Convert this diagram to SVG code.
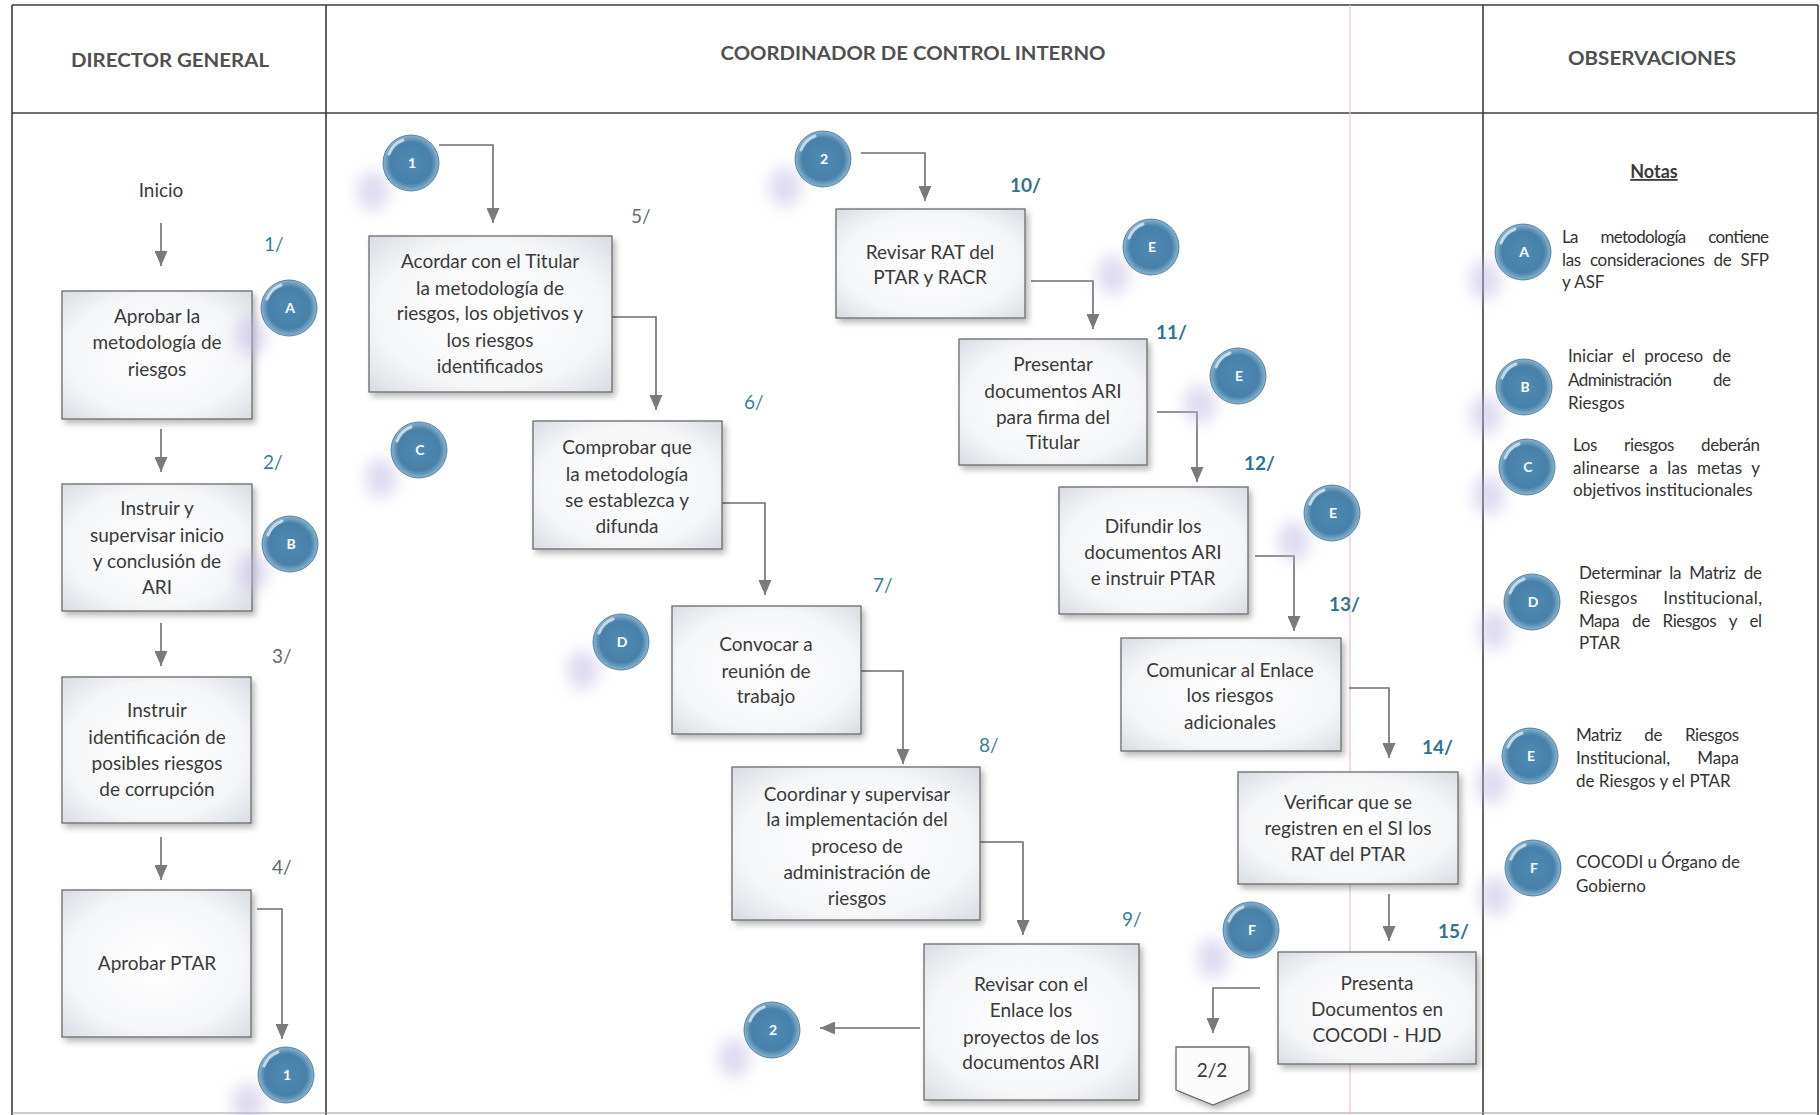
<svg xmlns="http://www.w3.org/2000/svg" xmlns:xlink="http://www.w3.org/1999/xlink" width="1820" height="1115" viewBox="0 0 1820 1115">
<style>
.hdr{font-family:Lato,"Liberation Sans",sans-serif;font-weight:bold;font-size:19.5px;fill:#505050;text-anchor:middle}
.bt{font-family:Lato,"Liberation Sans",sans-serif;font-size:19px;fill:#3a3a3a;text-anchor:middle}
.st{font-family:Lato,"Liberation Sans",sans-serif;font-size:19px;fill:#3b7d94}
.stb{font-family:Lato,"Liberation Sans",sans-serif;font-size:19px;font-weight:bold;fill:#2f7392}
.stg{font-family:Lato,"Liberation Sans",sans-serif;font-size:19px;fill:#5f6a6e}
.nt{font-family:Lato,"Liberation Sans",sans-serif;font-size:17px;fill:#333}
.ct{font-family:Lato,"Liberation Sans",sans-serif;font-size:14px;font-weight:bold;fill:#fff;text-anchor:middle}
.box{fill:url(#boxg);stroke:#6a6a6a;stroke-width:1.3;filter:url(#sh)}
.cn{fill:none;stroke:#6e6e6e;stroke-width:1.6;marker-end:url(#ah)}
.frame{stroke:#3c3c3c;stroke-width:1.6;fill:none}
</style>
<defs>
<radialGradient id="boxg" cx="50%" cy="50%" r="72%">
<stop offset="0%" stop-color="#ffffff"/>
<stop offset="65%" stop-color="#f5f6f8"/>
<stop offset="100%" stop-color="#d6dbe2"/>
</radialGradient>
<radialGradient id="ballg" cx="50%" cy="50%" r="52%">
<stop offset="0%" stop-color="#4f8ab2"/>
<stop offset="72%" stop-color="#4781aa"/>
<stop offset="100%" stop-color="#93bdd6"/>
</radialGradient>
<filter id="sh" x="-10%" y="-10%" width="125%" height="125%">
<feDropShadow dx="3" dy="4" stdDeviation="3" flood-color="#000" flood-opacity="0.28"/>
</filter>
<filter id="blur" x="-100%" y="-100%" width="300%" height="300%">
<feGaussianBlur stdDeviation="8"/>
</filter>
<marker id="ah" viewBox="0 0 15 13" refX="15" refY="6.5" markerWidth="15" markerHeight="13" markerUnits="userSpaceOnUse" orient="auto">
<path d="M0,0 L15,6.5 L0,13 z" fill="#7a7a7a"/>
</marker>
<g id="ball">
<ellipse cx="-38" cy="28" rx="16" ry="20" fill="#bdb6e2" opacity="0.5" filter="url(#blur)"/>
<circle r="28" fill="url(#ballg)" stroke="#3d6f93" stroke-width="0.8"/>
<path d="M-22,-9 A24,24 0 0 1 -8,-23" stroke="#e4f0f7" stroke-width="3" fill="none" stroke-linecap="round" opacity="0.75"/>
</g>
</defs>
<rect width="1820" height="1115" fill="#ffffff"/>

<g id="frame">
<line class="frame" x1="12" y1="5" x2="1818" y2="5"/>
<line class="frame" x1="12" y1="113" x2="1818" y2="113"/>
<line class="frame" x1="12" y1="5" x2="12" y2="1115"/>
<line class="frame" x1="326" y1="5" x2="326" y2="1115"/>
<line class="frame" x1="1483" y1="5" x2="1483" y2="1115"/>
<line class="frame" x1="1818" y1="5" x2="1818" y2="1115"/>
<line x1="12" y1="1113" x2="1818" y2="1113" stroke="#9a9a9a" stroke-width="1.2"/>
<line x1="1350" y1="5" x2="1350" y2="1115" stroke="#efc4cc" stroke-width="2" opacity="0.6"/>
<text class="hdr" x="170" y="67" textLength="198" lengthAdjust="spacingAndGlyphs">DIRECTOR GENERAL</text>
<text class="hdr" x="913" y="60" textLength="385" lengthAdjust="spacingAndGlyphs">COORDINADOR DE CONTROL INTERNO</text>
<text class="hdr" x="1652" y="65" textLength="168" lengthAdjust="spacingAndGlyphs">OBSERVACIONES</text>
</g>

<g id="connectors">
<line class="cn" x1="161" y1="223" x2="161" y2="266"/>
<line class="cn" x1="161" y1="429" x2="161" y2="472"/>
<line class="cn" x1="161" y1="623" x2="161" y2="666"/>
<line class="cn" x1="161" y1="837" x2="161" y2="880"/>
<polyline class="cn" points="257,909 282,909 282,1039"/>
<polyline class="cn" points="439,145 493,145 493,223"/>
<polyline class="cn" points="612,317 656,317 656,410"/>
<polyline class="cn" points="722,503 765,503 765,595"/>
<polyline class="cn" points="861,671 903,671 903,764"/>
<polyline class="cn" points="980,842 1023,842 1023,935"/>
<line class="cn" x1="920" y1="1028" x2="820" y2="1028"/>
<polyline class="cn" points="861,153 925,153 925,201"/>
<polyline class="cn" points="1031,281 1093,281 1093,329"/>
<polyline class="cn" points="1157,412 1197,412 1197,482"/>
<polyline class="cn" points="1255,556 1294,556 1294,631"/>
<polyline class="cn" points="1349,688 1389,688 1389,758"/>
<line class="cn" x1="1389" y1="894" x2="1389" y2="941"/>
<polyline class="cn" points="1260,988 1213,988 1213,1033"/>
</g>

<g id="inicio"><text class="bt" x="161" y="197">Inicio</text></g>

<g id="n1">
<rect class="box" x="62" y="291" width="190" height="128"/>
<text class="bt" x="157" y="323">Aprobar la</text>
<text class="bt" x="157" y="349">metodología de</text>
<text class="bt" x="157" y="376">riesgos</text>
<text class="st" x="264" y="251">1/</text>
</g>
<g id="n2">
<rect class="box" x="62" y="484" width="190" height="127"/>
<text class="bt" x="157" y="515">Instruir y</text>
<text class="bt" x="157" y="542">supervisar inicio</text>
<text class="bt" x="157" y="568">y conclusión de</text>
<text class="bt" x="157" y="594">ARI</text>
<text class="st" x="263" y="469">2/</text>
</g>
<g id="n3">
<rect class="box" x="62" y="677" width="189" height="146"/>
<text class="bt" x="157" y="717">Instruir</text>
<text class="bt" x="157" y="744">identificación de</text>
<text class="bt" x="157" y="770">posibles riesgos</text>
<text class="bt" x="157" y="796">de corrupción</text>
<text class="stg" x="272" y="663">3/</text>
</g>
<g id="n4">
<rect class="box" x="62" y="890" width="189" height="147"/>
<text class="bt" x="157" y="970">Aprobar PTAR</text>
<text class="stg" x="272" y="874">4/</text>
</g>

<g id="n5">
<rect class="box" x="369" y="236" width="243" height="156"/>
<text class="bt" x="490" y="268">Acordar con el Titular</text>
<text class="bt" x="490" y="295">la metodología de</text>
<text class="bt" x="490" y="320">riesgos, los objetivos y</text>
<text class="bt" x="490" y="347">los riesgos</text>
<text class="bt" x="490" y="373">identificados</text>
<text class="stg" x="631" y="223">5/</text>
</g>
<g id="n6">
<rect class="box" x="533" y="421" width="189" height="128"/>
<text class="bt" x="627" y="454">Comprobar que</text>
<text class="bt" x="627" y="481">la metodología</text>
<text class="bt" x="627" y="507">se establezca y</text>
<text class="bt" x="627" y="533">difunda</text>
<text class="st" x="744" y="409">6/</text>
</g>
<g id="n7">
<rect class="box" x="672" y="606" width="189" height="128"/>
<text class="bt" x="766" y="651">Convocar a</text>
<text class="bt" x="766" y="678">reunión de</text>
<text class="bt" x="766" y="703">trabajo</text>
<text class="st" x="873" y="592">7/</text>
</g>
<g id="n8">
<rect class="box" x="732" y="767" width="248" height="153"/>
<text class="bt" x="857" y="801">Coordinar y supervisar</text>
<text class="bt" x="857" y="826">la implementación del</text>
<text class="bt" x="857" y="853">proceso de</text>
<text class="bt" x="857" y="879">administración de</text>
<text class="bt" x="857" y="905">riesgos</text>
<text class="st" x="979" y="752">8/</text>
</g>
<g id="n9">
<rect class="box" x="924" y="944" width="215" height="156"/>
<text class="bt" x="1031" y="991">Revisar con el</text>
<text class="bt" x="1031" y="1017">Enlace los</text>
<text class="bt" x="1031" y="1044">proyectos de los</text>
<text class="bt" x="1031" y="1069">documentos ARI</text>
<text class="st" x="1122" y="926">9/</text>
</g>
<g id="n10">
<rect class="box" x="836" y="209" width="189" height="109"/>
<text class="bt" x="930" y="259">Revisar RAT del</text>
<text class="bt" x="930" y="284">PTAR y RACR</text>
<text class="stb" x="1010" y="192">10/</text>
</g>
<g id="n11">
<rect class="box" x="959" y="339" width="188" height="126"/>
<text class="bt" x="1053" y="371">Presentar</text>
<text class="bt" x="1053" y="398">documentos ARI</text>
<text class="bt" x="1053" y="424">para firma del</text>
<text class="bt" x="1053" y="449">Titular</text>
<text class="stb" x="1156" y="339">11/</text>
</g>
<g id="n12">
<rect class="box" x="1059" y="487" width="189" height="127"/>
<text class="bt" x="1153" y="533">Difundir los</text>
<text class="bt" x="1153" y="559">documentos ARI</text>
<text class="bt" x="1153" y="585">e instruir PTAR</text>
<text class="stb" x="1244" y="470">12/</text>
</g>
<g id="n13">
<rect class="box" x="1121" y="638" width="220" height="113"/>
<text class="bt" x="1230" y="677">Comunicar al Enlace</text>
<text class="bt" x="1230" y="702">los riesgos</text>
<text class="bt" x="1230" y="729">adicionales</text>
<text class="stb" x="1329" y="611">13/</text>
</g>
<g id="n14">
<rect class="box" x="1238" y="772" width="220" height="112"/>
<text class="bt" x="1348" y="809">Verificar que se</text>
<text class="bt" x="1348" y="835">registren en el SI los</text>
<text class="bt" x="1348" y="861">RAT del PTAR</text>
<text class="stb" x="1422" y="754">14/</text>
</g>
<g id="n15">
<rect class="box" x="1278" y="952" width="198" height="112"/>
<text class="bt" x="1377" y="990">Presenta</text>
<text class="bt" x="1377" y="1016">Documentos en</text>
<text class="bt" x="1377" y="1042">COCODI - HJD</text>
<text class="stb" x="1438" y="938">15/</text>
</g>
<g id="offpage">
<polygon points="1176,1047 1249,1047 1249,1090 1213,1105 1176,1090" fill="#fbfbfc" stroke="#6a6a6a" stroke-width="1.3" filter="url(#sh)"/>
<text class="bt" x="1212" y="1077">2/2</text>
</g>

<g id="circles">
<g id="c-A"><use xlink:href="#ball" x="289" y="308"/><text class="ct" x="290" y="313">A</text></g>
<g id="c-B"><use xlink:href="#ball" x="290" y="544"/><text class="ct" x="291" y="549">B</text></g>
<g id="c-1a"><use xlink:href="#ball" x="286" y="1075"/><text class="ct" x="287" y="1080">1</text></g>
<g id="c-1b"><use xlink:href="#ball" x="411" y="163"/><text class="ct" x="412" y="168">1</text></g>
<g id="c-C"><use xlink:href="#ball" x="419" y="450"/><text class="ct" x="420" y="455">C</text></g>
<g id="c-D"><use xlink:href="#ball" x="621" y="642"/><text class="ct" x="622" y="647">D</text></g>
<g id="c-2a"><use xlink:href="#ball" x="772" y="1030"/><text class="ct" x="773" y="1035">2</text></g>
<g id="c-2b"><use xlink:href="#ball" x="823" y="159"/><text class="ct" x="824" y="164">2</text></g>
<g id="c-E1"><use xlink:href="#ball" x="1151" y="247"/><text class="ct" x="1152" y="252">E</text></g>
<g id="c-E2"><use xlink:href="#ball" x="1238" y="376"/><text class="ct" x="1239" y="381">E</text></g>
<g id="c-E3"><use xlink:href="#ball" x="1332" y="513"/><text class="ct" x="1333" y="518">E</text></g>
<g id="c-F"><use xlink:href="#ball" x="1251" y="930"/><text class="ct" x="1252" y="935">F</text></g>
</g>

<g id="notas">
<text x="1654" y="178" font-family="Lato,'Liberation Sans',sans-serif" font-size="18" font-weight="bold" fill="#3a3a3a" text-anchor="middle" text-decoration="underline">Notas</text>
<g id="nota-A">
<use xlink:href="#ball" x="1523" y="252"/><text class="ct" x="1524" y="257">A</text>
<text class="nt" x="1562" y="243" word-spacing="19" textLength="207" lengthAdjust="spacing">La metodología contiene</text>
<text class="nt" x="1562" y="266" word-spacing="5" textLength="207" lengthAdjust="spacing">las consideraciones de SFP</text>
<text class="nt" x="1562" y="288">y ASF</text>
</g>
<g id="nota-B">
<use xlink:href="#ball" x="1524" y="387"/><text class="ct" x="1525" y="392">B</text>
<text class="nt" x="1568" y="362" word-spacing="5" textLength="163" lengthAdjust="spacing">Iniciar el proceso de</text>
<text class="nt" x="1568" y="386" word-spacing="38" textLength="163" lengthAdjust="spacing">Administración de</text>
<text class="nt" x="1568" y="409">Riesgos</text>
</g>
<g id="nota-C">
<use xlink:href="#ball" x="1527" y="467"/><text class="ct" x="1528" y="472">C</text>
<text class="nt" x="1573" y="451" word-spacing="23" textLength="187" lengthAdjust="spacing">Los riesgos deberán</text>
<text class="nt" x="1573" y="474" word-spacing="5" textLength="187" lengthAdjust="spacing">alinearse a las metas y</text>
<text class="nt" x="1573" y="496">objetivos institucionales</text>
</g>
<g id="nota-D">
<use xlink:href="#ball" x="1532" y="602"/><text class="ct" x="1533" y="607">D</text>
<text class="nt" x="1579" y="579" word-spacing="4" textLength="183" lengthAdjust="spacing">Determinar la Matriz de</text>
<text class="nt" x="1579" y="604" word-spacing="21" textLength="183" lengthAdjust="spacing">Riesgos Institucional,</text>
<text class="nt" x="1579" y="627" word-spacing="9" textLength="183" lengthAdjust="spacing">Mapa de Riesgos y el</text>
<text class="nt" x="1579" y="649">PTAR</text>
</g>
<g id="nota-E">
<use xlink:href="#ball" x="1530" y="756"/><text class="ct" x="1531" y="761">E</text>
<text class="nt" x="1576" y="741" word-spacing="19" textLength="163" lengthAdjust="spacing">Matriz de Riesgos</text>
<text class="nt" x="1576" y="764" word-spacing="23" textLength="163" lengthAdjust="spacing">Institucional, Mapa</text>
<text class="nt" x="1576" y="787">de Riesgos y el PTAR</text>
</g>
<g id="nota-F">
<use xlink:href="#ball" x="1533" y="868"/><text class="ct" x="1534" y="873">F</text>
<text class="nt" x="1576" y="868">COCODI u Órgano de</text>
<text class="nt" x="1576" y="892">Gobierno</text>
</g>
</g>
</svg>
